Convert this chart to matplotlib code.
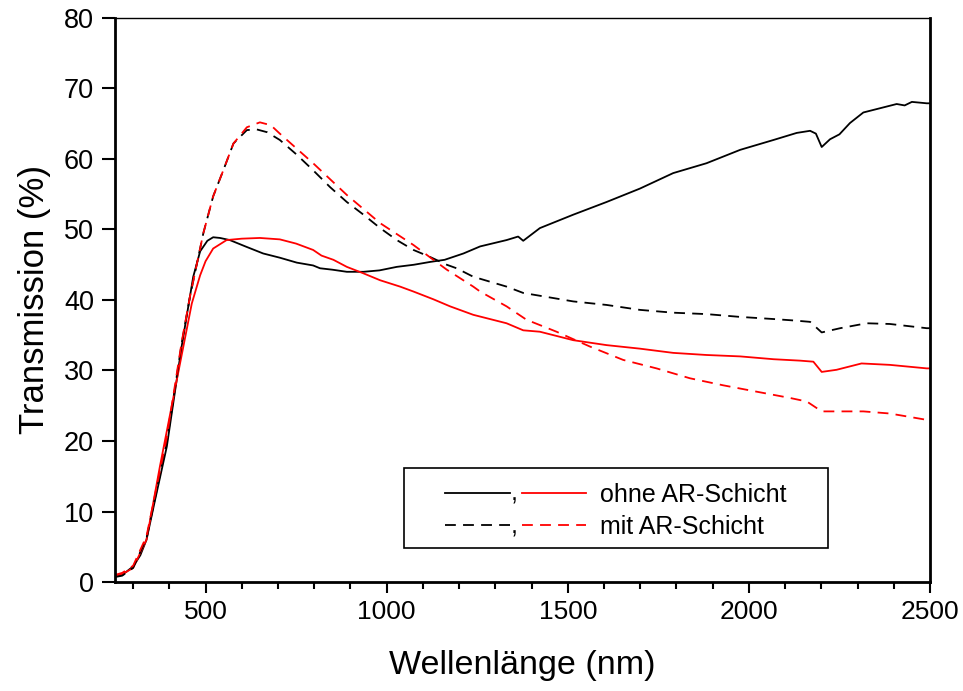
import matplotlib
matplotlib.use("Agg")
import matplotlib.pyplot as plt
from matplotlib.legend_handler import HandlerBase
from matplotlib.lines import Line2D
from matplotlib.text import Text
from matplotlib.patches import Rectangle
from matplotlib.ticker import MultipleLocator

plt.rcParams['font.family'] = ['Liberation Sans', 'DejaVu Sans']

# Sample 1 (black) and sample 2 (red), without anti-reflection coating
wl_black_solid = [250, 270, 300, 320, 337, 360, 393, 434, 466, 485, 505, 521, 540, 567, 610,
                  659, 705, 752, 797, 816, 850, 890, 936, 980, 1028, 1075, 1120, 1160, 1212,
                  1258, 1331, 1363, 1377, 1423, 1515, 1607, 1699, 1791, 1883, 1976, 2068,
                  2132, 2169, 2185, 2201, 2224, 2250, 2279, 2316, 2362, 2408, 2430, 2450,
                  2491, 2500]
t_black_solid = [0.8, 1.0, 2.2, 3.8, 6.0, 11.5, 19.2, 33.4, 43.3, 46.9, 48.4, 48.9, 48.8, 48.5,
                 47.6, 46.6, 46.0, 45.3, 44.9, 44.5, 44.3, 44.0, 44.0, 44.2, 44.7, 45.0, 45.4,
                 45.7, 46.6, 47.6, 48.5, 49.0, 48.4, 50.2, 52.1, 53.9, 55.8, 58.0, 59.4, 61.3,
                 62.7, 63.7, 64.0, 63.6, 61.7, 62.8, 63.5, 65.1, 66.6, 67.2, 67.8, 67.6, 68.1,
                 67.9, 67.9]

wl_red_solid = [250, 270, 300, 337, 374, 420, 462, 485, 500, 521, 558, 600, 650, 705, 750,
                797, 820, 853, 890, 935, 982, 1037, 1074, 1129, 1175, 1239, 1331, 1377, 1423,
                1515, 1607, 1699, 1791, 1883, 1976, 2068, 2141, 2178, 2201, 2242, 2311, 2389,
                2491, 2500]
t_red_solid = [0.9, 1.1, 2.0, 6.0, 16.4, 28.5, 39.5, 43.5, 45.5, 47.3, 48.5, 48.7, 48.8, 48.6,
               48.0, 47.1, 46.3, 45.7, 44.7, 43.8, 42.8, 41.9, 41.2, 40.1, 39.1, 37.9, 36.7,
               35.7, 35.5, 34.3, 33.6, 33.1, 32.5, 32.2, 32.0, 31.6, 31.4, 31.25, 29.8, 30.1,
               31.0, 30.8, 30.3, 30.3]

# Same samples with anti-reflection coating
wl_black_dash = [250, 270, 300, 337, 393, 434, 457, 494, 521, 549, 577, 614, 641, 670, 705,
                 752, 797, 844, 890, 936, 982, 1028, 1074, 1120, 1166, 1193, 1239, 1331, 1377,
                 1515, 1607, 1699, 1791, 1883, 1976, 2068, 2123, 2169, 2201, 2252, 2325, 2389,
                 2491, 2500]
t_black_dash = [0.7, 0.9, 2.0, 6.2, 19.8, 33.8, 40.5, 49.5, 54.7, 58.4, 62.2, 64.1, 64.2, 63.8,
                62.7, 60.6, 58.4, 56.0, 53.9, 52.1, 50.2, 48.5, 47.1, 46.1, 45.0, 44.5, 43.3,
                41.9, 41.0, 39.8, 39.3, 38.6, 38.2, 38.0, 37.6, 37.3, 37.1, 36.9, 35.4, 36.0,
                36.7, 36.6, 36.0, 36.0]

wl_red_dash = [250, 270, 300, 337, 393, 434, 457, 494, 521, 549, 577, 614, 650, 680, 705, 797,
               890, 982, 1074, 1129, 1166, 1239, 1258, 1331, 1386, 1469, 1561, 1653, 1745,
               1837, 1929, 2021, 2114, 2160, 2201, 2316, 2389, 2491, 2500]
t_red_dash = [1.0, 1.3, 2.3, 6.5, 20.5, 34.0, 40.5, 49.5, 54.7, 58.4, 62.2, 64.5, 65.2, 64.8,
              63.6, 59.4, 54.9, 50.9, 47.8, 45.7, 44.3, 41.9, 41.2, 39.1, 37.2, 35.5, 33.4,
              31.5, 30.3, 28.9, 27.9, 27.0, 26.1, 25.6, 24.2, 24.2, 23.9, 23.0, 22.9]

legend_labels = ["ohne AR-Schicht", "mit AR-Schicht"]

RED = "#ff0000"
LW = 1.3
DASH = (0, (6, 4))

fig = plt.figure(figsize=(9.63, 6.91), dpi=100)
ax = fig.add_axes([115 / 963, 109 / 691, 815 / 963, 564 / 691])

ax.plot(wl_black_solid, t_black_solid, color="black", lw=LW)
ax.plot(wl_red_solid, t_red_solid, color=RED, lw=LW)
ax.plot(wl_black_dash, t_black_dash, color="black", lw=LW, ls=DASH)
ax.plot(wl_red_dash, t_red_dash, color=RED, lw=LW, ls=DASH)

ax.set_xlim(250, 2500)
ax.set_ylim(0, 80)
ax.xaxis.set_major_locator(MultipleLocator(500))
ax.xaxis.set_minor_locator(MultipleLocator(100))
ax.yaxis.set_major_locator(MultipleLocator(10))

ax.tick_params(axis="x", which="major", direction="out", length=8, width=1.5,
               labelsize=19, pad=5)
ax.tick_params(axis="x", which="minor", direction="out", length=5, width=1.5)
ax.tick_params(axis="y", which="major", direction="out", length=9.5, width=1.5,
               labelsize=19.5, pad=5.5)

for side in ("left", "bottom", "right"):
    ax.spines[side].set_linewidth(2)
ax.spines["top"].set_linewidth(1)

ax.set_xlabel("Wellenlänge (nm)", fontsize=24.5, labelpad=19)
ax.set_ylabel("Transmission (%)", fontsize=25, labelpad=9)


class PairHandler(HandlerBase):
    """Draws 'line , line' for a (black, red) pair of line styles."""

    def create_artists(self, legend, orig_handle, xdescent, ydescent, width, height,
                       fontsize, trans):
        ls = orig_handle
        y = height / 2 - ydescent
        x0 = -xdescent + 0.163 * width
        w = width - 0.163 * width
        l1 = Line2D([x0, x0 + 0.46 * w], [y, y], color="black", lw=LW, ls=ls)
        comma = Text(x0 + 0.49 * w, y - 0.32 * fontsize, ",", fontsize=fontsize,
                     ha="center", va="baseline", color="black")
        l2 = Line2D([x0 + 0.546 * w, x0 + w], [y, y], color=RED, lw=LW, ls=ls)
        for a in (l1, comma, l2):
            a.set_transform(trans)
        return [l1, comma, l2]


handles = ["-", DASH]
leg = ax.legend(handles, legend_labels,
                handler_map={str: PairHandler(), tuple: PairHandler()},
                loc="lower left", bbox_to_anchor=(0.362, 0.063), borderaxespad=0,
                frameon=False, fontsize=18, handlelength=6.74, handletextpad=0.56,
                labelspacing=0.33, borderpad=0.3)

# frame around the legend
ax.add_patch(Rectangle((289 / 815, 34 / 564), 424 / 815, 80 / 564, transform=ax.transAxes,
                       fill=False, edgecolor="black", lw=1.2, zorder=5))

fig.savefig("out.png", dpi=100)
